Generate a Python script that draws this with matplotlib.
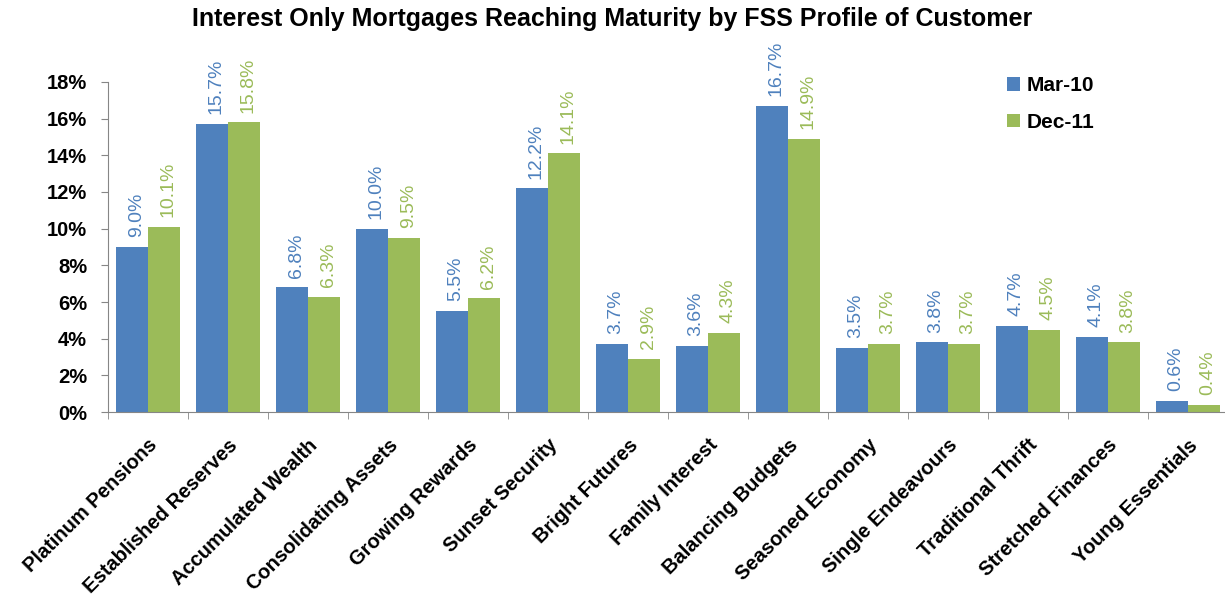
import matplotlib
matplotlib.use("Agg")
import matplotlib.pyplot as plt
import numpy as np

categories = ["Platinum Pensions", "Established Reserves", "Accumulated Wealth",
              "Consolidating Assets", "Growing Rewards", "Sunset Security",
              "Bright Futures", "Family Interest", "Balancing Budgets",
              "Seasoned Economy", "Single Endeavours", "Traditional Thrift",
              "Stretched Finances", "Young Essentials"]
mar10 = [9.0, 15.7, 6.8, 10.0, 5.5, 12.2, 3.7, 3.6, 16.7, 3.5, 3.8, 4.7, 4.1, 0.6]
dec11 = [10.1, 15.8, 6.3, 9.5, 6.2, 14.1, 2.9, 4.3, 14.9, 3.7, 3.7, 4.5, 3.8, 0.4]
series_names = ["Mar-10", "Dec-11"]
yticks = [0, 2, 4, 6, 8, 10, 12, 14, 16, 18]

BLUE = "#4F81BD"
GREEN = "#9BBB59"
FONT = ["Liberation Sans", "DejaVu Sans"]
plt.rcParams["font.family"] = FONT

fig = plt.figure(figsize=(12.25, 6.02), dpi=100)
ax = fig.add_axes([108 / 1225, 190 / 602, 1120 / 1225, 330 / 602])

x = np.arange(len(categories))
w = 0.4
b1 = ax.bar(x - w / 2, mar10, w, color=BLUE, label=series_names[0])
b2 = ax.bar(x + w / 2, dec11, w, color=GREEN, label=series_names[1])

for bars, vals, col in ((b1, mar10, BLUE), (b2, dec11, GREEN)):
    for bar, v in zip(bars, vals):
        ax.annotate(f"{v:.1f}%", (bar.get_x() + bar.get_width() / 2, v),
                    xytext=(3, 7), textcoords="offset points",
                    rotation=90, ha="center", va="bottom",
                    color=col, fontsize=14)

ax.set_xlim(-0.5, len(categories) - 0.5)
ax.set_ylim(0, 18)
ax.set_yticks(yticks)
ax.set_yticklabels([f"{t}%" for t in yticks], fontsize=14.5, fontweight="bold")

ax.set_xticks(x)
ax.set_xticklabels(categories, rotation=45, ha="right", rotation_mode="anchor",
                   fontsize=14.5, fontweight="bold")
ax.tick_params(axis="x", which="major", length=0, pad=17)
ax.set_xticks(np.arange(len(categories) + 1) - 0.5, minor=True)
ax.tick_params(axis="x", which="minor", length=5, color="#868686")
ax.tick_params(axis="y", length=5, color="#868686", pad=10)

for s in ("top", "right"):
    ax.spines[s].set_visible(False)
for s in ("left", "bottom"):
    ax.spines[s].set_color("#868686")

leg = ax.legend(loc="upper left", bbox_to_anchor=(0.786, 1.074), frameon=False,
                handlelength=0.6, handleheight=0.6, labelspacing=0.85,
                handletextpad=0.35, prop={"weight": "bold", "size": 15})

fig.text(0.5, 0.968, "Interest Only Mortgages Reaching Maturity by FSS Profile of Customer",
         ha="center", va="center", fontsize=18, fontweight="bold")

fig.savefig("out.png", dpi=100)
